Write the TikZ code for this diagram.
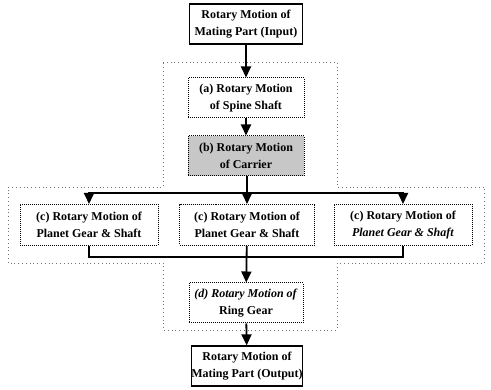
\documentclass[tikz,border=0pt]{standalone}
\usepackage{fontspec}
\setmainfont{Liberation Serif}
\usetikzlibrary{arrows.meta}
\begin{document}
\begin{tikzpicture}[x=1pt,y=-1pt,
  every node/.style={font=\fontsize{12}{16.5}\selectfont\bfseries, align=center, inner sep=0pt},
  solidbox/.style={draw=black, line width=1.2pt, minimum height=40pt},
  dotbox/.style={draw=black, line width=1pt, densely dotted, minimum height=40pt},
  shadebox/.style={dotbox, fill=black!22},
  region/.style={draw=black!55, line width=0.8pt, dash pattern=on 0.8pt off 3pt},
  flow/.style={line width=1.8pt, -{Triangle[width=10pt,length=11pt]}},
  link/.style={line width=1.8pt}]
\useasboundingbox (0,0) rectangle (491,390);

% dotted outline around the internal stages
\draw[region] (163,62) -- (337,62) -- (337,187) -- (484,187) -- (484,263)
  -- (337,263) -- (337,330) -- (163,330) -- (163,263) -- (8,263) -- (8,187)
  -- (163,187) -- cycle;

% stages
\node[solidbox, minimum width=113pt] (in) at (246,24) {Rotary Motion of\\Mating Part (Input)};
\node[dotbox, minimum width=116pt] (a) at (246,98) {(a) Rotary Motion\\of Spine Shaft};
\node[shadebox, minimum width=116pt] (b) at (246,156) {(b) Rotary Motion\\of Carrier};
\node[dotbox, minimum width=138pt, minimum height=41pt] (cl) at (89,225) {(c) Rotary Motion of\\Planet Gear \& Shaft};
\node[dotbox, minimum width=135pt, minimum height=41pt] (cm) at (247,225) {(c) Rotary Motion of\\Planet Gear \& Shaft};
\node[dotbox, minimum width=138pt, minimum height=41pt] (cr) at (403,225) {(c) Rotary Motion of\\\textit{Planet Gear \& Shaft}};
\node[dotbox, minimum width=114pt] (d) at (246,303) {\textit{(d) Rotary Motion of}\\Ring Gear};
\node[solidbox, minimum width=110pt] (out) at (247,366) {Rotary Motion of\\Mating Part (Output)};

% branch and merge points
\coordinate (split) at (247,193);
\coordinate (merge) at (247,257);

% connectors
\draw[flow] (in) -- (a);
\draw[flow] (a) -- (b);
\draw[flow] (b.south -| cm.north) -- (cm);
\draw[flow] (split) -| (cl.north);
\draw[flow] (split) -| (cr.north);
\draw[link] (cl.south) |- (merge);
\draw[link] (cr.south) |- (merge);
\draw[flow] (cm) -- (d);
\draw[flow] (d) -- (out);
\end{tikzpicture}
\end{document}
